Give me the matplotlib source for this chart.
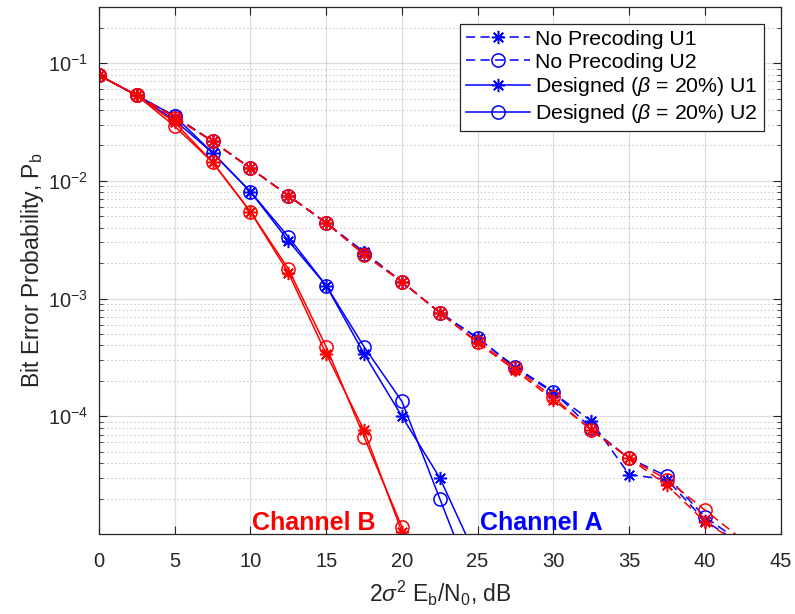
import numpy as np
import matplotlib
matplotlib.use("Agg")
import matplotlib.pyplot as plt
from matplotlib.lines import Line2D
from matplotlib.ticker import LogLocator, FixedLocator, NullFormatter

plt.rcParams['font.family'] = ['Liberation Sans', 'DejaVu Sans']
plt.rcParams['mathtext.fontset'] = 'custom'
plt.rcParams['mathtext.rm'] = 'Liberation Sans'
plt.rcParams['mathtext.it'] = 'Liberation Sans:italic'
plt.rcParams['mathtext.bf'] = 'Liberation Sans:bold'

# SNR axis (dB)
snr_db = [0, 2.5, 5, 7.5, 10, 12.5, 15, 17.5, 20, 22.5, 25, 27.5, 30,
          32.5, 35, 37.5, 40, 42.5]
snr_short = snr_db[:10]   # designed curves, channel B
snr_mid = snr_db[:11]     # designed curves, channel A

# Channel A (blue)
a_noprec_u1 = [0.079, 0.0532, 0.035, 0.0217, 0.0128, 0.0075, 0.0044, 0.00249,
               0.00139, 0.00076, 0.000465, 0.000259, 0.000158, 9.1e-5, 3.2e-5,
               2.9e-5, 1.3e-5, 8.0e-6]
a_noprec_u2 = [0.079, 0.0532, 0.0355, 0.0217, 0.0128, 0.0075, 0.0044, 0.00240,
               0.00139, 0.00076, 0.00046, 0.000262, 0.000162, 7.9e-5, 4.4e-5,
               3.1e-5, 1.4e-5, 8.3e-6]
a_design_u1 = [0.079, 0.0532, 0.0327, 0.0173, 0.0081, 0.0031, 0.00129, 0.00034,
               0.0001, 3.0e-5, 6e-6]
a_design_u2 = [0.079, 0.0532, 0.0355, 0.0173, 0.0081, 0.00335, 0.00129, 0.00039,
               0.000134, 2.0e-5, 3e-6]

# Channel B (red)
b_noprec_u1 = [0.079, 0.0532, 0.035, 0.0217, 0.0128, 0.0075, 0.0044, 0.00240,
               0.00139, 0.00076, 0.00042, 0.000245, 0.000138, 7.7e-5, 4.4e-5,
               2.6e-5, 1.27e-5, 8.0e-6]
b_noprec_u2 = [0.079, 0.0532, 0.0345, 0.0217, 0.0128, 0.0075, 0.0044, 0.00236,
               0.00139, 0.00076, 0.00043, 0.000255, 0.000145, 7.6e-5, 4.4e-5,
               2.9e-5, 1.6e-5, 8.9e-6]
b_design_u1 = [0.079, 0.0532, 0.0314, 0.0144, 0.00546, 0.00166, 0.00034, 7.6e-5,
               1.04e-5, 1.5e-6]
b_design_u2 = [0.079, 0.0532, 0.0291, 0.0144, 0.00546, 0.00179, 0.00039, 6.7e-5,
               1.15e-5, 1.5e-6]

labels = ['No Precoding U1', 'No Precoding U2',
          r'Designed ($\beta$ = 20%) U1', r'Designed ($\beta$ = 20%) U2']

Y_MIN, Y_MAX = 1e-5, 0.3

fig = plt.figure(figsize=(7.95, 6.14), dpi=100)
ax = fig.add_axes([0.1245, 0.1303, 0.8573, 0.8583])

asterisk = (8, 2, 0)
dash = (0, (6, 3.5))
ms = 9.5
lw = 1.1
styles = [(dash, asterisk), (dash, 'o'), ('-', asterisk), ('-', 'o')]


def curve(x, y, color, ls, marker):
    # line over the full range; markers only where the point lies inside the axes
    ax.plot(x, y, color=color, ls=ls, lw=lw)
    keep = [i for i, v in enumerate(y) if v >= Y_MIN]
    ax.plot([x[i] for i in keep], [y[i] for i in keep], ls='none',
            marker=marker, ms=ms, mew=lw, color=color, mfc='none')


blue = (0, 0, 1)
red = (1, 0, 0)
for (ls, mk), x, y in zip(styles, [snr_db, snr_db, snr_mid, snr_mid],
                          [a_noprec_u1, a_noprec_u2, a_design_u1, a_design_u2]):
    curve(x, y, blue, ls, mk)
for (ls, mk), x, y in zip(styles, [snr_db, snr_db, snr_short, snr_short],
                          [b_noprec_u1, b_noprec_u2, b_design_u1, b_design_u2]):
    curve(x, y, red, ls, mk)

ax.set_yscale('log')
ax.set_xlim(0, 45)
ax.set_ylim(Y_MIN, Y_MAX)
ax.xaxis.set_major_locator(FixedLocator(np.arange(0, 46, 5)))
ax.yaxis.set_major_locator(FixedLocator([1e-4, 1e-3, 1e-2, 1e-1]))
ax.yaxis.set_minor_locator(LogLocator(base=10, subs=np.arange(2, 10), numticks=20))
ax.yaxis.set_minor_formatter(NullFormatter())

edge = '#262626'
for s in ax.spines.values():
    s.set_color(edge)
    s.set_linewidth(0.9)
ax.tick_params(which='both', direction='in', top=True, right=True,
               colors=edge, labelcolor='#262626', labelsize=14.5)
ax.tick_params(axis='x', which='major', length=6, pad=13)
ax.tick_params(axis='y', which='major', length=6, pad=8)
ax.tick_params(which='minor', length=3)

ax.grid(True, which='major', color='#262626', alpha=0.15, lw=0.9)
ax.grid(True, which='minor', axis='y', color='#262626', alpha=0.25,
        lw=0.7, ls=(0, (1.5, 2.5)))
ax.set_axisbelow(True)

ax.set_xlabel(r'2$\sigma^2$ E$_\mathregular{b}$/N$_\mathregular{0}$, dB',
              fontsize=16.5, color='#262626', labelpad=6)
ax.set_ylabel(r'Bit Error Probability, P$_\mathregular{b}$',
              fontsize=16.5, color='#262626', labelpad=1)

ax.text(14.2, 1.25e-5, 'Channel B', color=red, fontsize=18,
        fontweight='bold', ha='center', va='center')
ax.text(29.2, 1.25e-5, 'Channel A', color=blue, fontsize=18,
        fontweight='bold', ha='center', va='center')

handles = [Line2D([], [], color=blue, ls=ls, lw=lw, marker=mk, ms=ms, mew=lw,
                  mfc='none') for ls, mk in styles]
leg = ax.legend(handles, labels, loc='upper right', fontsize=15.3,
                handlelength=3.0, labelspacing=0.18, borderpad=0.28,
                handletextpad=0.25, borderaxespad=0, fancybox=False,
                framealpha=1, edgecolor='#262626',
                bbox_to_anchor=(0.976, 0.968))
leg.get_frame().set_linewidth(0.9)

fig.savefig('out.png', dpi=100)
